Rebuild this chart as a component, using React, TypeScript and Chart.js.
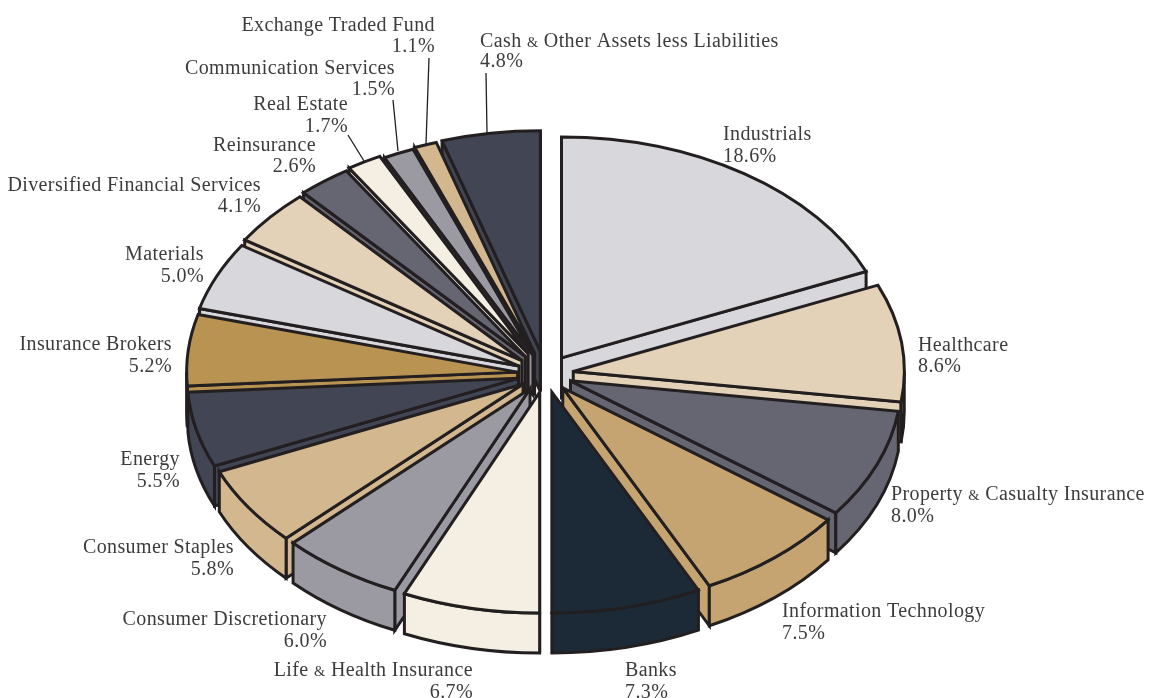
import React, { useEffect, useRef } from "react";
import { Chart, registerables } from "chart.js";

Chart.register(...registerables);

const categories = [
  "Industrials",
  "Healthcare",
  "Property & Casualty Insurance",
  "Information Technology",
  "Banks",
  "Life & Health Insurance",
  "Consumer Discretionary",
  "Consumer Staples",
  "Energy",
  "Insurance Brokers",
  "Materials",
  "Diversified Financial Services",
  "Reinsurance",
  "Real Estate",
  "Communication Services",
  "Exchange Traded Fund",
  "Cash & Other Assets less Liabilities",
];

const shares = [18.6, 8.6, 8.0, 7.5, 7.3, 6.7, 6.0, 5.8, 5.5, 5.2, 5.0, 4.1, 2.6, 1.7, 1.5, 1.1, 4.8];

const sliceColors = [
  "#d7d7dc", "#e3d2b8", "#666672", "#c5a472", "#1c2a38", "#f4eee3",
  "#9b9aa3", "#d3b88f", "#424654", "#b89351", "#d7d7dc", "#e3d2b8",
  "#666672", "#f4eee3", "#9b9aa3", "#d3b88f", "#424654",
];

// How far each slice is pulled out of the pie.
const sliceOffsets = [29, 28, 27, 27, 28, 28, 27, 27, 28, 28, 29, 31, 33, 35, 31, 33, 34];

// Text anchor per category: x, first baseline, second baseline, alignment.
const labelAnchors: [number, number, number, "left" | "right"][] = [
  [723, 140, 162, "left"],
  [918, 351, 372, "left"],
  [891, 500, 522, "left"],
  [782, 617, 639, "left"],
  [625, 676, 698, "left"],
  [473, 676, 698, "right"],
  [327, 625, 647, "right"],
  [234, 553, 575, "right"],
  [180, 465, 487, "right"],
  [172, 350, 372, "right"],
  [204, 260, 282, "right"],
  [261, 191, 212, "right"],
  [316, 151, 172, "right"],
  [348, 110, 132, "right"],
  [395, 74, 95, "right"],
  [435, 31, 52, "right"],
  [480, 47, 67, "left"],
];

const leaderLines = [
  [429, 58, 426, 144],
  [393, 100, 398, 151],
  [348, 135, 364, 161],
  [486, 73, 487, 133],
];

const INK = "#231f20";
const TEXT = "#3c3c3e";
const SQUASH = 0.667;
const DEPTH = 40;
const STROKE = 3;
const FONT_SIZE = 20;
const FONT = "Liberation Serif";

function paint(ctx: CanvasRenderingContext2D, color: string) {
  ctx.fillStyle = color;
  ctx.fill();
  ctx.strokeStyle = INK;
  ctx.lineWidth = STROKE;
  ctx.lineJoin = "miter";
  ctx.miterLimit = 4;
  ctx.stroke();
}

// One text line; the ampersand is set smaller than the words around it.
function drawLine(ctx: CanvasRenderingContext2D, text: string, x: number, y: number, align: string) {
  const parts = text.split(/(&)/);
  const fontFor = (p: string) => `${p === "&" ? FONT_SIZE * 0.72 : FONT_SIZE}px "${FONT}"`;
  (ctx as any).letterSpacing = "0.38px";
  let total = 0;
  for (const p of parts) {
    ctx.font = fontFor(p);
    total += ctx.measureText(p).width;
  }
  let cx = align === "right" ? x - total : x;
  ctx.textAlign = "left";
  ctx.textBaseline = "alphabetic";
  ctx.fillStyle = TEXT;
  for (const p of parts) {
    ctx.font = fontFor(p);
    ctx.fillText(p, cx, y);
    cx += ctx.measureText(p).width;
  }
}

const extrudedPie = {
  id: "extrudedPie",
  beforeDatasetDraw(chart: any) {
    const ctx: CanvasRenderingContext2D = chart.ctx;
    const arcs = chart.getDatasetMeta(0).data as any[];

    const solids = arcs.map((arc, i) => {
      const mid = (arc.startAngle + arc.endAngle) / 2;
      const off = arc.options.offset;
      return {
        i,
        start: arc.startAngle,
        end: arc.endAngle,
        r: arc.outerRadius,
        sinMid: Math.sin(mid),
        ax: arc.x + off * Math.cos(mid),
        ay: arc.y + off * Math.sin(mid) * SQUASH,
      };
    });

    // Back slices first, so nearer slices cover the walls behind them.
    solids.sort((a, b) => a.sinMid - b.sinMid);

    ctx.save();
    for (const s of solids) {
      const color = sliceColors[s.i];
      const ry = s.r * SQUASH;
      const edge = (angle: number) => {
        const ex = s.ax + s.r * Math.cos(angle);
        const ey = s.ay + ry * Math.sin(angle);
        ctx.beginPath();
        ctx.moveTo(s.ax, s.ay);
        ctx.lineTo(ex, ey);
        ctx.lineTo(ex, ey + DEPTH);
        ctx.lineTo(s.ax, s.ay + DEPTH);
        ctx.closePath();
        paint(ctx, color);
      };
      if (Math.cos(s.start) < 0) edge(s.start);
      if (Math.cos(s.end) > 0) edge(s.end);

      const wallFrom = Math.max(s.start, 0);
      const wallTo = Math.min(s.end, Math.PI);
      if (wallTo > wallFrom) {
        ctx.beginPath();
        ctx.ellipse(s.ax, s.ay, s.r, ry, 0, wallFrom, wallTo);
        ctx.ellipse(s.ax, s.ay + DEPTH, s.r, ry, 0, wallTo, wallFrom, true);
        ctx.closePath();
        paint(ctx, color);
      }

      ctx.beginPath();
      ctx.moveTo(s.ax, s.ay);
      ctx.ellipse(s.ax, s.ay, s.r, ry, 0, s.start, s.end);
      ctx.closePath();
      paint(ctx, color);
    }
    ctx.restore();
    return false;
  },
  afterDraw(chart: any) {
    const ctx: CanvasRenderingContext2D = chart.ctx;
    ctx.save();
    ctx.strokeStyle = INK;
    ctx.lineWidth = 1.3;
    for (const [x1, y1, x2, y2] of leaderLines) {
      ctx.beginPath();
      ctx.moveTo(x1, y1);
      ctx.lineTo(x2, y2);
      ctx.stroke();
    }
    categories.forEach((name, i) => {
      const [x, y1, y2, align] = labelAnchors[i];
      drawLine(ctx, name, x, y1, align);
      drawLine(ctx, `${shares[i].toFixed(1)}%`, x, y2, align);
    });
    ctx.restore();
  },
};

export default function App() {
  const ref = useRef<HTMLCanvasElement>(null);
  useEffect(() => {
    const chart = new Chart(ref.current!, {
      type: "pie",
      data: {
        labels: categories,
        datasets: [{ data: shares, backgroundColor: sliceColors, offset: sliceOffsets, borderWidth: 0 }],
      },
      options: {
        responsive: false,
        animation: false,
        radius: 331,
        layout: { padding: { right: 60, top: 50 } },
        plugins: { legend: { display: false }, tooltip: { enabled: false } },
      } as any,
      plugins: [extrudedPie],
    });
    return () => chart.destroy();
  }, []);
  return (
    <div style={{ position: "fixed", left: 0, top: 0, width: 1151, height: 698, background: "#fff" }}>
      <canvas ref={ref} width={1151} height={698} style={{ display: "block" }} />
    </div>
  );
}
